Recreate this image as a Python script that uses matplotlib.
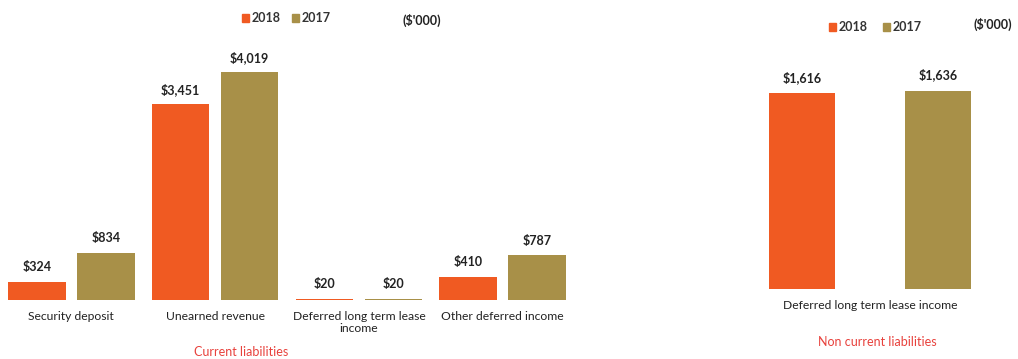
import numpy as np
import matplotlib.pyplot as plt

plt.rcParams['font.family'] = ['Lato', 'DejaVu Sans']

cur_cats = ['Security deposit', 'Unearned revenue', 'Deferred long term lease\nincome', 'Other deferred income']
cur_2018 = [324, 3451, 20, 410]
cur_2017 = [834, 4019, 20, 787]

non_cats = ['Deferred long term lease income']
non_2018 = [1616]
non_2017 = [1636]

c18 = '#F05A22'
c17 = '#A89048'
red = '#E8413C'

fig = plt.figure(figsize=(10.18, 3.59), dpi=100)

# left panel: current liabilities
ax1 = fig.add_axes([8/1018, 59/359, 558/1018, 260/359])
x = np.arange(len(cur_cats))
w = 0.40
off = 0.24
b1 = ax1.bar(x - off, cur_2018, w, color=c18)
b2 = ax1.bar(x + off, cur_2017, w, color=c17)
ax1.set_xlim(-0.44, 3.44)
ax1.set_ylim(0, 4585)
for bars, vals in [(b1, cur_2018), (b2, cur_2017)]:
    for r, v in zip(bars, vals):
        ax1.text(r.get_x() + r.get_width()/2, v + 150, '${:,}'.format(v),
                 ha='center', va='bottom', fontsize=9, fontweight='bold', color='#222222')
ax1.set_xticks(x)
ax1.set_xticklabels(cur_cats, fontsize=8.7, color='#222222', va='top', linespacing=1.1)
ax1.tick_params(axis='x', length=0, pad=8)
ax1.set_yticks([])
for s in ax1.spines.values():
    s.set_visible(False)

# right panel: non current liabilities
ax2 = fig.add_axes([740/1018, 70/359, 260/1018, 249/359])
x2 = np.arange(len(non_cats))
w2 = 0.515
off2 = 0.523
r1 = ax2.bar(x2 - off2, non_2018, w2, color=c18)
r2 = ax2.bar(x2 + off2, non_2017, w2, color=c17)
ax2.set_xlim(-1, 1)
ax2.set_ylim(0, 2053)
for bars, vals in [(r1, non_2018), (r2, non_2017)]:
    for r, v in zip(bars, vals):
        ax2.text(r.get_x() + r.get_width()/2, v + 75, '${:,}'.format(v),
                 ha='center', va='bottom', fontsize=9, fontweight='bold', color='#222222')
ax2.set_xticks(x2)
ax2.set_xticklabels(non_cats, fontsize=8.7, color='#222222')
ax2.tick_params(axis='x', length=0, pad=8)
ax2.set_yticks([])
for s in ax2.spines.values():
    s.set_visible(False)

# legends drawn by hand so the labels come out bold
for cx, cy, step in [(242/1018, 1 - 18/359, 50/1018), (829/1018, 1 - 27/359, 54/1018)]:
    for i, (col, lab) in enumerate([(c18, '2018'), (c17, '2017')]):
        xx = cx + i * step
        fig.patches.append(plt.Rectangle((xx, cy - 3.5/359), 7/1018, 7/359,
                                         color=col, transform=fig.transFigure))
        fig.text(xx + 10/1018, cy, lab, ha='left', va='center', fontsize=9,
                 fontweight='bold', color='#333333')

fig.text(422/1018, 1 - 20/359, "($'000)", ha='center', va='center', fontsize=9, fontweight='bold', color='#222222')
fig.text(993/1018, 1 - 24/359, "($'000)", ha='center', va='center', fontsize=9, fontweight='bold', color='#222222')

fig.text(241/1018, 1 - 352/359, 'Current liabilities', ha='center', va='center', fontsize=9, color=red)
fig.text(877/1018, 1 - 342/359, 'Non current liabilities', ha='center', va='center', fontsize=9, color=red)

fig.savefig('out.png', dpi=100)
